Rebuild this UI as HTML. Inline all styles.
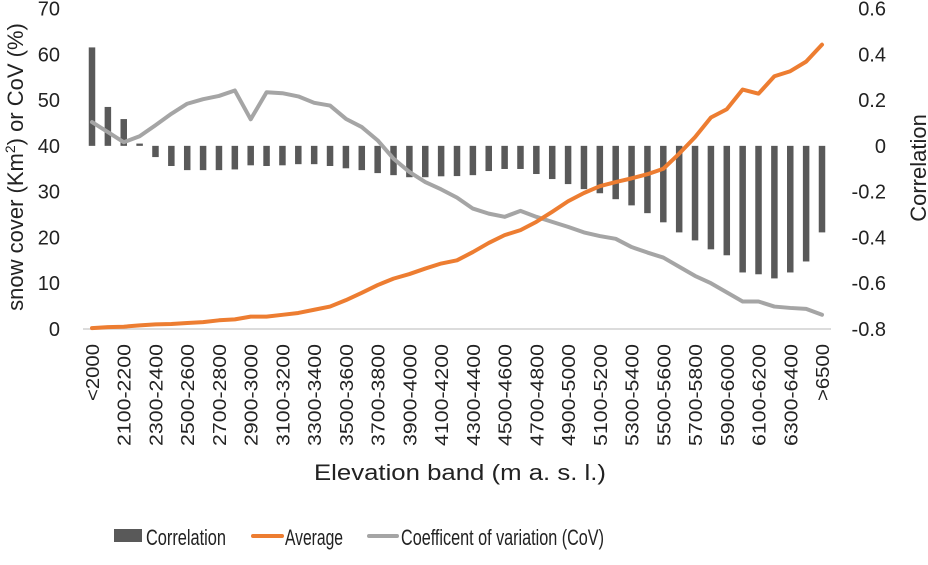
<!DOCTYPE html>
<html><head><meta charset="utf-8"><style>
html,body{margin:0;padding:0;background:#fff;}
svg text{font-family:"Liberation Sans",sans-serif;fill:#222;}
</style></head><body>
<svg id="chart" width="928" height="560" xmlns="http://www.w3.org/2000/svg"></svg>
<script>
const categories = ["<2000","2000-2100","2100-2200","2200-2300","2300-2400","2400-2500","2500-2600","2600-2700","2700-2800","2800-2900","2900-3000","3000-3100","3100-3200","3200-3300","3300-3400","3400-3500","3500-3600","3600-3700","3700-3800","3800-3900","3900-4000","4000-4100","4100-4200","4200-4300","4300-4400","4400-4500","4500-4600","4600-4700","4700-4800","4800-4900","4900-5000","5000-5100","5100-5200","5200-5300","5300-5400","5400-5500","5500-5600","5600-5700","5700-5800","5800-5900","5900-6000","6000-6100","6100-6200","6200-6300","6300-6400","6400-6500",">6500"];
const correlation = [0.43,0.17,0.117,0.01,-0.049,-0.088,-0.106,-0.106,-0.106,-0.103,-0.085,-0.088,-0.085,-0.08,-0.08,-0.088,-0.098,-0.106,-0.119,-0.128,-0.137,-0.137,-0.133,-0.132,-0.128,-0.11,-0.101,-0.101,-0.123,-0.145,-0.167,-0.189,-0.207,-0.233,-0.26,-0.294,-0.334,-0.378,-0.413,-0.452,-0.478,-0.553,-0.561,-0.579,-0.553,-0.505,-0.378];
const average = [0.2,0.4,0.5,0.8,1.0,1.1,1.3,1.5,1.9,2.1,2.7,2.7,3.1,3.5,4.2,4.9,6.3,7.9,9.6,11.0,12.0,13.2,14.3,15.0,16.8,18.8,20.5,21.6,23.4,25.6,27.9,29.7,31.2,32.1,32.9,33.8,35.0,38.3,41.9,46.2,48.0,52.3,51.4,55.2,56.3,58.4,62.1];
const cov = [45.2,43.0,40.8,42.1,44.5,47.0,49.2,50.2,50.9,52.1,45.8,51.7,51.5,50.8,49.4,48.8,45.9,44.1,41.2,37.2,34.3,32.1,30.5,28.7,26.3,25.2,24.5,25.8,24.5,23.4,22.3,21.1,20.3,19.7,17.9,16.7,15.6,13.6,11.6,10.0,8.0,6.0,6.0,4.9,4.6,4.4,3.1];
const leftTicks = [0,10,20,30,40,50,60,70];
const rightTicks = [-0.8,-0.6,-0.4,-0.2,0,0.2,0.4,0.6];

const NS="http://www.w3.org/2000/svg";
const svg=document.getElementById('chart');
function mk(tag,attrs,parent){const e=document.createElementNS(NS,tag);for(const k in attrs)e.setAttribute(k,attrs[k]);(parent||svg).appendChild(e);return e;}
const X0=92, X1=822, YB=329, YT=8.5;
const x=i=>X0+(X1-X0)*i/(categories.length-1);
const yL=v=>YB-(YB-YT)*v/70;
const yR=v=>YB-(YB-YT)*(v+0.8)/1.4;

let ax=mk('line',{x1:83,x2:831,y1:YB,y2:YB,stroke:'#d0d0d0','stroke-width':1.5});



leftTicks.forEach(v=>{const t=mk('text',{x:60,y:yL(v)+7,'text-anchor':'end','font-size':20});t.textContent=v;

});
rightTicks.forEach(v=>{const t=mk('text',{x:886,y:yR(v)+7,'text-anchor':'end','font-size':20});t.textContent=(v===0?'0':v.toFixed(1));

});

const bw=6.5;
correlation.forEach((v,i)=>{const y0=yR(0),y1=yR(v);
const r=mk('rect',{x:x(i)-bw/2,y:Math.min(y0,y1),width:bw,height:Math.abs(y1-y0),fill:'#595959'});

});

function line(arr,color,name){const p=mk('polyline',{points:arr.map((v,i)=>x(i)+','+yL(v)).join(' '),fill:'none',stroke:color,'stroke-width':4,'stroke-linejoin':'round','stroke-linecap':'round'});

}
line(cov,'#a5a5a5','cov-line');
line(average,'#ed7d31','average-line');

categories.forEach((c,i)=>{if(i%2===1)return;const px=x(i)+7;
const t=mk('text',{x:0,y:0,'text-anchor':'end','font-size':18,transform:`translate(${px},344) rotate(-90)`});t.textContent=c;
t.setAttribute('textLength',c.length>5?102:57);t.setAttribute('lengthAdjust','spacingAndGlyphs');

});

let t=mk('text',{x:460,y:480,'text-anchor':'middle','font-size':22,textLength:292,lengthAdjust:'spacingAndGlyphs'});t.textContent='Elevation band (m a. s. l.)';

t=mk('text',{x:0,y:0,'text-anchor':'middle','font-size':22,transform:'translate(23,167) rotate(-90)'});
t.innerHTML='snow cover (Km<tspan font-size="14" dy="-8">2</tspan><tspan dy="8">) or  CoV (%)</tspan>';

t=mk('text',{x:0,y:0,'text-anchor':'middle','font-size':22,transform:'translate(926,168) rotate(-90)'});t.textContent='Correlation';


let g=mk('g',{});
mk('rect',{x:114,y:529,width:28,height:13,fill:'#595959'},g);
t=mk('text',{x:146,y:545,'font-size':22,textLength:80,lengthAdjust:'spacingAndGlyphs'},g);t.textContent='Correlation';
g=mk('g',{});
mk('line',{x1:253,x2:282,y1:536,y2:536,stroke:'#ed7d31','stroke-width':4,'stroke-linecap':'round'},g);
t=mk('text',{x:285,y:545,'font-size':22,textLength:58,lengthAdjust:'spacingAndGlyphs'},g);t.textContent='Average';
g=mk('g',{});
mk('line',{x1:369,x2:397,y1:536,y2:536,stroke:'#a5a5a5','stroke-width':4,'stroke-linecap':'round'},g);
t=mk('text',{x:401,y:545,'font-size':22,textLength:203,lengthAdjust:'spacingAndGlyphs'},g);t.textContent='Coefficent of variation (CoV)';
</script>
</body></html>
